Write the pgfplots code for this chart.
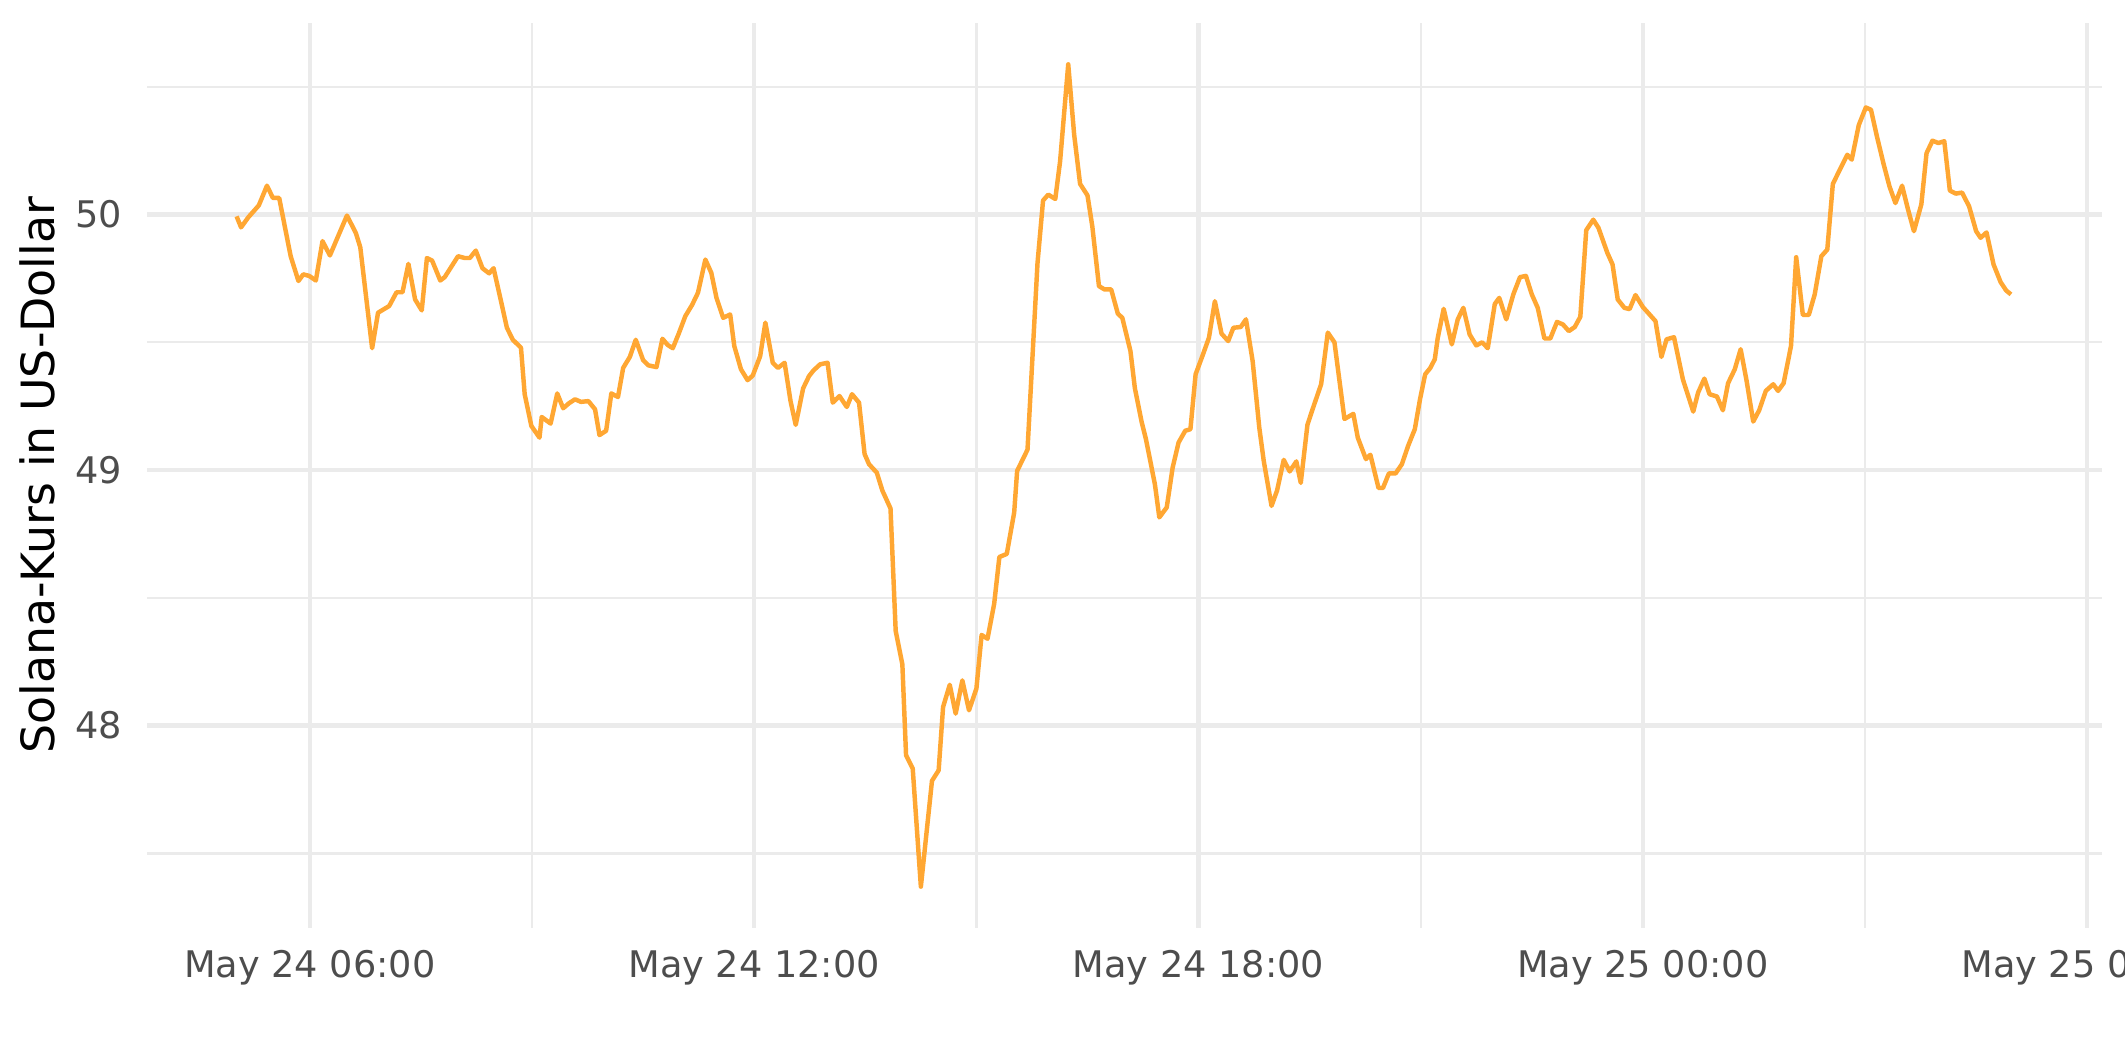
\documentclass[border=0pt]{standalone}
\usepackage{pgfplots}
\pgfplotsset{compat=1.18}
\usepackage{fontspec}
\setmainfont{DejaVu Sans}
\definecolor{solorange}{HTML}{FFA733}
\definecolor{gridgray}{HTML}{EBEBEB}
\definecolor{ticktext}{HTML}{4D4D4D}

% hours since May 24 00:00, price in USD
\pgfplotstableread{
h v
5.01 49.993
5.07 49.95
5.17 49.99
5.31 50.036
5.42 50.113
5.50 50.065
5.585 50.065
5.74 49.837
5.845 49.74
5.91 49.766
5.99 49.76
6.08 49.742
6.17 49.896
6.27 49.84
6.38 49.915
6.50 49.996
6.62 49.928
6.68 49.872
6.84 49.477
6.92 49.616
7.07 49.642
7.17 49.696
7.25 49.696
7.33 49.807
7.42 49.668
7.51 49.625
7.58 49.83
7.65 49.82
7.76 49.742
7.82 49.755
8.00 49.837
8.09 49.83
8.16 49.83
8.24 49.859
8.33 49.79
8.42 49.77
8.48 49.79
8.575 49.668
8.66 49.557
8.74 49.51
8.85 49.479
8.90 49.297
8.99 49.173
9.10 49.127
9.13 49.208
9.25 49.182
9.34 49.30
9.42 49.242
9.50 49.262
9.58 49.277
9.66 49.267
9.76 49.27
9.85 49.238
9.91 49.137
10.0 49.154
10.07 49.30
10.16 49.286
10.23 49.40
10.32 49.443
10.40 49.51
10.50 49.43
10.57 49.41
10.68 49.403
10.76 49.514
10.83 49.49
10.90 49.477
10.98 49.534
11.07 49.603
11.16 49.646
11.24 49.694
11.34 49.824
11.42 49.772
11.49 49.674
11.58 49.596
11.675 49.609
11.73 49.486
11.82 49.395
11.91 49.352
11.98 49.37
12.08 49.446
12.15 49.577
12.25 49.42
12.32 49.40
12.41 49.42
12.49 49.27
12.56 49.177
12.66 49.32
12.74 49.368
12.80 49.39
12.89 49.414
12.99 49.42
13.06 49.264
13.15 49.29
13.25 49.247
13.32 49.297
13.415 49.264
13.49 49.063
13.55 49.023
13.655 48.99
13.73 48.92
13.84 48.85
13.91 48.37
14.0 48.24
14.05 47.884
14.14 47.832
14.25 47.37
14.40 47.784
14.49 47.825
14.55 48.073
14.64 48.16
14.72 48.047
14.81 48.177
14.90 48.06
15.0 48.145
15.07 48.355
15.15 48.34
15.24 48.477
15.31 48.66
15.41 48.672
15.51 48.834
15.55 48.997
15.69 49.08
15.825 49.81
15.90 50.055
15.97 50.078
16.065 50.061
16.13 50.208
16.24 50.588
16.32 50.3125
16.40 50.12
16.50 50.075
16.565 49.954
16.655 49.72
16.73 49.707
16.82 49.707
16.91 49.612
16.97 49.596
17.08 49.466
17.14 49.32
17.23 49.19
17.29 49.12
17.41 48.945
17.47 48.815
17.57 48.854
17.65 49.01
17.73 49.108
17.82 49.154
17.89 49.16
17.96 49.375
18.06 49.453
18.14 49.518
18.22 49.661
18.31 49.534
18.40 49.505
18.47 49.557
18.57 49.56
18.64 49.59
18.73 49.427
18.82 49.166
18.88 49.036
18.985 48.86
19.06 48.92
19.15 49.04
19.23 48.995
19.32 49.034
19.38 48.95
19.47 49.177
19.53 49.23
19.655 49.336
19.745 49.538
19.835 49.5
19.97 49.2
20.09 49.22
20.15 49.127
20.26 49.043
20.32 49.06
20.43 48.93
20.49 48.93
20.57 48.987
20.66 48.987
20.745 49.023
20.83 49.095
20.92 49.16
20.99 49.277
21.06 49.375
21.13 49.40
21.19 49.434
21.23 49.518
21.31 49.631
21.42 49.492
21.50 49.59
21.575 49.635
21.66 49.531
21.75 49.488
21.83 49.50
21.905 49.477
22.0 49.65
22.06 49.674
22.155 49.59
22.25 49.6875
22.34 49.755
22.42 49.76
22.50 49.6875
22.58 49.635
22.67 49.515
22.75 49.515
22.84 49.58
22.92 49.57
23.0 49.544
23.08 49.56
23.155 49.60
23.235 49.939
23.33 49.98
23.40 49.948
23.52 49.85
23.59 49.805
23.66 49.668
23.75 49.635
23.82 49.63
23.90 49.685
24.0 49.638
24.09 49.609
24.17 49.583
24.25 49.443
24.32 49.512
24.42 49.52
24.54 49.355
24.68 49.229
24.745 49.303
24.83 49.358
24.90 49.297
25.0 49.288
25.08 49.234
25.15 49.34
25.24 49.394
25.32 49.473
25.40 49.35
25.49 49.19
25.57 49.234
25.66 49.31
25.76 49.336
25.825 49.31
25.90 49.34
25.96 49.427
26.0 49.486
26.07 49.833
26.16 49.607
26.24 49.607
26.32 49.6875
26.41 49.837
26.49 49.863
26.565 50.12
26.65 50.17
26.76 50.234
26.82 50.215
26.915 50.35
27.01 50.419
27.08 50.41
27.16 50.306
27.25 50.198
27.33 50.11
27.41 50.045
27.50 50.113
27.58 50.02
27.66 49.935
27.76 50.04
27.83 50.24
27.91 50.289
27.99 50.28
28.07 50.287
28.145 50.094
28.225 50.082
28.31 50.086
28.405 50.032
28.50 49.935
28.56 49.909
28.64 49.93
28.735 49.805
28.83 49.736
28.905 49.703
28.97 49.6875
}\soltable

\begin{document}
\begin{tikzpicture}
\path[use as bounding box, clip] (0,0) rectangle (510pt,254.9pt);
\begin{axis}[
  at={(35.28pt,32.3pt)}, anchor=south west,
  scale only axis, width=469.2pt, height=217.1pt,
  xmin=3.8, xmax=30.2, ymin=47.21, ymax=50.75,
  xtick={6,12,18,24,30},
  xticklabels={May 24 06:00,May 24 12:00,May 24 18:00,May 25 00:00,May 25 06:00},
  minor xtick={3,9,15,21,27},
  ytick={48,49,50},
  minor ytick={47.5,48.5,49.5,50.5},
  grid=both,
  major grid style={draw=gridgray, line width=1.07pt},
  minor grid style={draw=gridgray, line width=0.53pt},
  axis line style={draw=none},
  major tick length=0pt, minor tick length=0pt,
  tick style={draw=none},
  /pgf/number format/assume math mode=true,
  ticklabel style={font=\fontsize{8.8}{10}\selectfont, text=ticktext, inner sep=0pt},
  xticklabel style={anchor=base, yshift=-11.9pt},
  yticklabel style={anchor=east, xshift=-5.8pt},
  ylabel={Solana-Kurs in US-Dollar},
  ylabel style={at={([xshift=-22.1pt]axis description cs:0,0.5)}, anchor=base, rotate=0, inner sep=0pt, font=\fontsize{11}{13}\selectfont, text=black},
]
\addplot[solorange, line width=1.07pt, line join=round] table[x=h, y=v] {\soltable};
\end{axis}
\end{tikzpicture}
\end{document}
